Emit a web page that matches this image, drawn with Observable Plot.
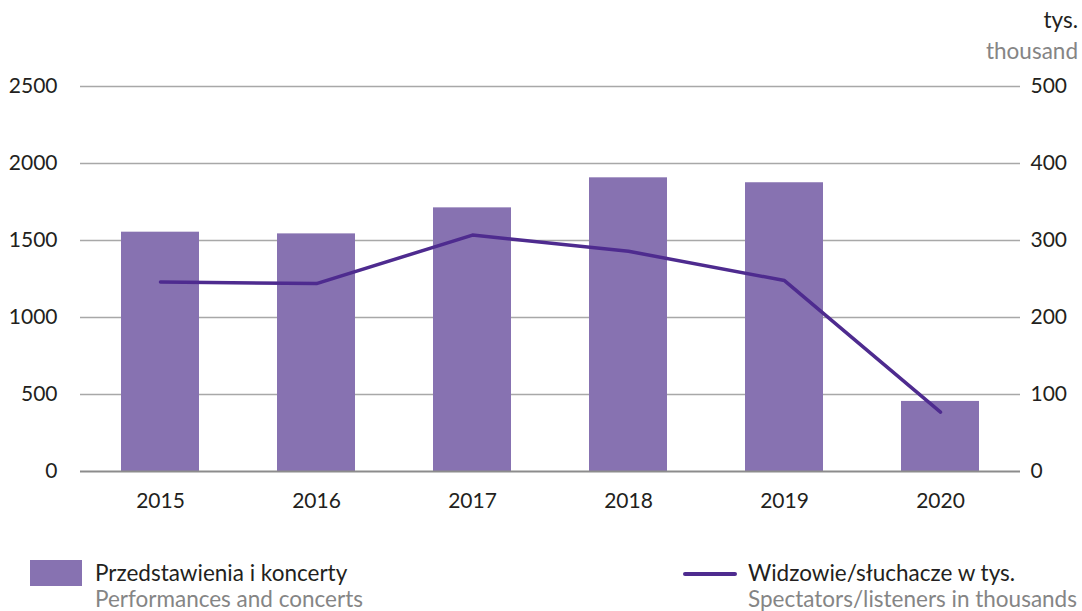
<!DOCTYPE html>
<html><head><meta charset="utf-8">
<script src="https://cdn.jsdelivr.net/npm/d3@7"></script>
<script src="https://cdn.jsdelivr.net/npm/@observablehq/plot@0.6"></script>
<style>
body{margin:0;background:#fff;font-family:Lato,"Noto Sans",sans-serif;}
#wrap{position:relative;width:1082px;height:611px;overflow:hidden;}
.t{position:absolute;font-size:22.5px;line-height:1;white-space:nowrap;}
.dark{color:#231f20;}
.gray{color:#858585;}
svg{display:block;}
</style></head><body><div id="wrap"></div>
<script>
const years = ["2015","2016","2017","2018","2019","2020"];
const performances = [1554, 1543, 1712, 1907, 1875, 455];
const spectators = [246, 244, 307, 286, 248, 77];
const leftTicks = [0, 500, 1000, 1500, 2000, 2500];
const rightTicks = [0, 100, 200, 300, 400, 500];
const unitPl = "tys.";
const unitEn = "thousand";
const barLabelPl = "Przedstawienia i koncerty";
const barLabelEn = "Performances and concerts";
const lineLabelPl = "Widzowie/słuchacze w tys.";
const lineLabelEn = "Spectators/listeners in thousands";

const ratio = leftTicks[leftTicks.length-1] / rightTicks[rightTicks.length-1];
const barData = years.map((y,i)=>({year:y, value:performances[i]}));
const lineData = years.map((y,i)=>({year:y, value:spectators[i]}));

const barColor = "#8772b1";
const lineColor = "#4e2b8f";

const chart = Plot.plot({
  width: 1082, height: 530,
  marginLeft: 80, marginRight: 62, marginTop: 86, marginBottom: 59,
  style: {fontFamily: "Lato, 'Noto Sans', sans-serif", fontSize: "21px", color: "#231f20", background: "#fff"},
  x: {type: "band", domain: years, paddingInner: 0.5, paddingOuter: 0.25, label: null},
  y: {domain: [0, 2500], label: null},
  marks: [
    Plot.ruleY(leftTicks.filter(d=>d>0), {stroke: "#a8a8a8", strokeWidth: 1.4}),
    Plot.barY(barData, {x: "year", y: "value", fill: barColor}),
    Plot.ruleY([0], {stroke: "#8c8c8c", strokeWidth: 2}),
    Plot.line(lineData, {x: "year", y: d => d.value * ratio, stroke: lineColor, strokeWidth: 3.5, strokeLinecap: "round", strokeLinejoin: "round"}),
    Plot.axisX({tickSize: 0, tickPadding: 22, label: null, fill: "#231f20"}),
    Plot.axisY(leftTicks, {anchor: "left", tickSize: 0, tickPadding: 23, label: null, fill: "#231f20", tickFormat: d => String(d)}),
    Plot.axisY(leftTicks, {anchor: "right", tickSize: 0, tickPadding: 10, label: null, fill: "#231f20", tickFormat: d => String(d / ratio)})
  ]
});
const wrap = document.getElementById("wrap");
wrap.appendChild(chart);

function addText(txt, cls, css){
  const d = document.createElement("div");
  d.className = "t " + cls;
  d.textContent = txt;
  Object.assign(d.style, css);
  wrap.appendChild(d);
  return d;
}
addText(unitPl, "dark", {right: "4px", top: "9px"});
addText(unitEn, "gray", {right: "4px", top: "40px"});

const sw = document.createElement("div");
Object.assign(sw.style, {position:"absolute", left:"30px", top:"560px", width:"52px", height:"26px", background: barColor});
wrap.appendChild(sw);
addText(barLabelPl, "dark", {left: "95px", top: "562px"});
addText(barLabelEn, "gray", {left: "95px", top: "588px"});

const ln = document.createElement("div");
Object.assign(ln.style, {position:"absolute", left:"683px", top:"572px", width:"54px", height:"4px", borderRadius:"2px", background: lineColor});
wrap.appendChild(ln);
addText(lineLabelPl, "dark", {left: "748px", top: "562px"});
addText(lineLabelEn, "gray", {left: "748px", top: "588px"});
</script>
</body></html>
